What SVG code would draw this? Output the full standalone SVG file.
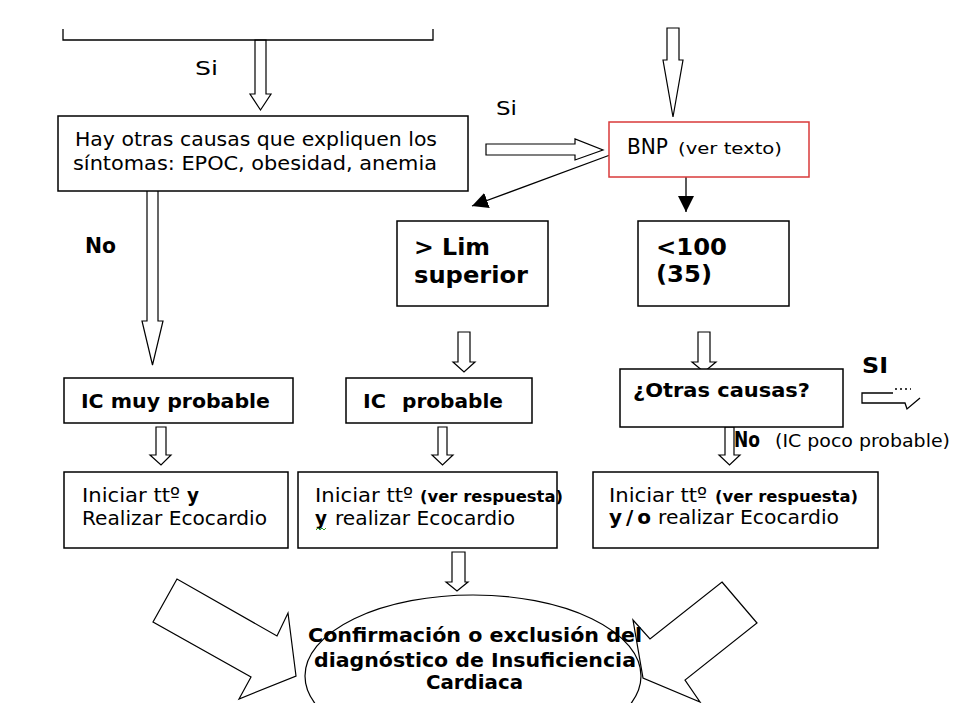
<svg xmlns="http://www.w3.org/2000/svg" width="960" height="720" viewBox="0 0 960 720">
<defs>
<style>
.t{font-family:"DejaVu Sans",Verdana,"Liberation Sans",sans-serif;fill:#000}
.b{font-weight:bold}
.box{fill:#fff;stroke:#000;stroke-width:1.5}
.blk{fill:#fff;stroke:#000;stroke-width:1.2;stroke-linejoin:miter}
.thin{fill:none;stroke:#000;stroke-width:1.3}
</style>
<marker id="ah" markerUnits="userSpaceOnUse" markerWidth="16" markerHeight="16" refX="16" refY="8" orient="auto">
<path d="M0,0 L16,8 L0,16 z" fill="#000"/>
</marker>
<clipPath id="clipBottom"><rect x="0" y="0" width="960" height="703"/></clipPath>
</defs>
<rect width="960" height="720" fill="#fff"/>

<g id="connectors">
<polygon class="blk" points="255,40 266,40 266,94 271,94 260.5,110 250,94 255,94"/>
<polygon class="blk" points="667,28 679,28 679,60 683,60 673,117 663,60 667,60"/>
<polygon class="blk" points="486,144 575,144 575,139 603,150 575,160 575,155 486,155"/>
<polygon class="blk" points="147,189 158,189 158,321 163,321 152.5,365 142,321 147,321"/>
<polygon class="blk" points="458,332 470,332 470,362 475,362 464,372 453,362 458,362"/>
<polygon class="blk" points="698,332 710,332 710,362 716,362 704,372 692,362 698,362"/>
<polygon class="blk" points="156,427 166,427 166,455 171,455 161,465 150,455 156,455"/>
<polygon class="blk" points="438,427 447,427 447,455 453,455 442.5,465 432,455 438,455"/>
<polygon class="blk" points="725,427 734,427 734,455 740,455 729.5,465 719,455 725,455"/>
<polygon class="blk" points="452,552 465,552 465,582 468,582 457,591 446,582 452,582"/>
<line class="thin" x1="610" y1="155" x2="472" y2="206" marker-end="url(#ah)"/>
<line class="thin" x1="686" y1="177" x2="686" y2="212" marker-end="url(#ah)"/>
<path class="thin" d="M893,393 H862 V403 H905 L907,409 L920,398" stroke-width="1"/>
<path class="thin" d="M895,389 H911" stroke-dasharray="2,3" stroke-width="1.2"/>
</g>

<g id="top-box">
<path class="thin" d="M63,29 V40 H433 V29" stroke-width="1.5"/>
</g>

<g id="label-si-1"><text class="t" x="195" y="75" font-size="20" textLength="23" lengthAdjust="spacingAndGlyphs">Si</text></g>
<g id="label-si-2"><text class="t" x="496" y="115" font-size="20" textLength="21" lengthAdjust="spacingAndGlyphs">Si</text></g>

<g id="node-otras-causas-1">
<rect class="box" x="58" y="116" width="410" height="75"/>
<text class="t" x="75" y="146" font-size="19.5" textLength="362" lengthAdjust="spacingAndGlyphs">Hay otras causas que expliquen los</text>
<text class="t" x="73" y="170" font-size="19.5" textLength="364" lengthAdjust="spacingAndGlyphs">síntomas: EPOC, obesidad, anemia</text>
</g>

<g id="node-bnp">
<rect x="609" y="122" width="200" height="55" fill="#fff" stroke="#d93a3a" stroke-width="1.5"/>
<text class="t" x="627" y="154" font-size="20.5" textLength="41" lengthAdjust="spacingAndGlyphs">BNP</text>
<text class="t" x="678" y="154" font-size="16.5" textLength="104" lengthAdjust="spacingAndGlyphs" fill="#222">(ver texto)</text>
</g>

<g id="label-no-1"><text class="t b" x="85" y="253" font-size="21" textLength="31" lengthAdjust="spacingAndGlyphs">No</text></g>

<g id="node-lim">
<rect class="box" x="397" y="221" width="151" height="85"/>
<text class="t b" x="414" y="255" font-size="23" textLength="76" lengthAdjust="spacingAndGlyphs">&gt; Lim</text>
<text class="t b" x="414" y="283" font-size="23" textLength="114" lengthAdjust="spacingAndGlyphs">superior</text>
</g>

<g id="node-100">
<rect class="box" x="638" y="221" width="151" height="85"/>
<text class="t b" x="656" y="255" font-size="23" textLength="71" lengthAdjust="spacingAndGlyphs">&lt;100</text>
<text class="t b" x="656" y="282" font-size="23" textLength="56" lengthAdjust="spacingAndGlyphs">(35)</text>
</g>

<g id="node-ic-muy">
<rect class="box" x="64" y="378" width="229" height="45"/>
<text class="t b" x="81" y="408" font-size="19.5" textLength="189" lengthAdjust="spacingAndGlyphs">IC muy probable</text>
</g>

<g id="node-ic-prob">
<rect class="box" x="346" y="378" width="186" height="45"/>
<text class="t b" x="363" y="408" font-size="19.5" textLength="23" lengthAdjust="spacingAndGlyphs">IC</text>
<text class="t b" x="402" y="408" font-size="19.5" textLength="101" lengthAdjust="spacingAndGlyphs">probable</text>
</g>

<g id="node-otras-causas-2">
<rect class="box" x="620" y="369" width="223" height="58"/>
<text class="t b" x="633" y="397" font-size="19" textLength="177" lengthAdjust="spacingAndGlyphs">¿Otras causas?</text>
</g>

<g id="label-si-3"><text class="t b" x="862" y="373" font-size="21" textLength="26" lengthAdjust="spacingAndGlyphs">SI</text></g>

<g id="label-no-2">
<text class="t b" x="734" y="447" font-size="21" textLength="26" lengthAdjust="spacingAndGlyphs">No</text>
<text class="t" x="775" y="447" font-size="18" textLength="175" lengthAdjust="spacingAndGlyphs">(IC poco probable)</text>
</g>

<g id="node-iniciar-1">
<rect class="box" x="64" y="472" width="224" height="76"/>
<text class="t" x="82" y="502" font-size="20" textLength="98" lengthAdjust="spacingAndGlyphs">Iniciar ttº</text>
<text class="t b" x="187" y="502" font-size="20" textLength="12" lengthAdjust="spacingAndGlyphs">y</text>
<text class="t" x="82" y="525" font-size="20" textLength="185" lengthAdjust="spacingAndGlyphs">Realizar Ecocardio</text>
</g>

<g id="node-iniciar-2">
<rect class="box" x="298" y="472" width="259" height="76"/>
<text class="t" x="315" y="502" font-size="20" textLength="98" lengthAdjust="spacingAndGlyphs">Iniciar ttº</text>
<text class="t b" x="420" y="502" font-size="15" textLength="143" lengthAdjust="spacingAndGlyphs">(ver respuesta)</text>
<text class="t b" x="315" y="525" font-size="20" textLength="12" lengthAdjust="spacingAndGlyphs">y</text>
<text class="t" x="335" y="525" font-size="20" textLength="180" lengthAdjust="spacingAndGlyphs">realizar Ecocardio</text>
<path d="M316,530 l2,-2 l2,2 l2,-2 l2,2 l2,-2" fill="none" stroke="#2a9a2a" stroke-width="1"/>
</g>

<g id="node-iniciar-3">
<rect class="box" x="593" y="472" width="285" height="76"/>
<text class="t" x="609" y="502" font-size="20" textLength="98" lengthAdjust="spacingAndGlyphs">Iniciar ttº</text>
<text class="t b" x="715" y="502" font-size="15" textLength="143" lengthAdjust="spacingAndGlyphs">(ver respuesta)</text>
<text class="t b" x="609" y="524" font-size="20" textLength="42">y/o</text>
<text class="t" x="658" y="524" font-size="20" textLength="181" lengthAdjust="spacingAndGlyphs">realizar Ecocardio</text>
</g>

<g id="node-confirmacion" clip-path="url(#clipBottom)">
<ellipse cx="473" cy="676" rx="168" ry="81" fill="#fff" stroke="#000" stroke-width="1.2"/>
<polygon class="blk" points="177,579 153,622 251,677 239,699 296,676 288,613 277,636"/>
<polygon class="blk" points="722,582 757,623 685,680 700,702 643,678 633,620 650,639"/>
<text class="t b" x="308" y="642" font-size="20" textLength="334" lengthAdjust="spacingAndGlyphs">Confirmación o exclusión del</text>
<text class="t b" x="314" y="667" font-size="20" textLength="322" lengthAdjust="spacingAndGlyphs">diagnóstico de Insuficiencia</text>
<text class="t b" x="426" y="689" font-size="20" textLength="97" lengthAdjust="spacingAndGlyphs">Cardiaca</text>
</g>
</svg>
